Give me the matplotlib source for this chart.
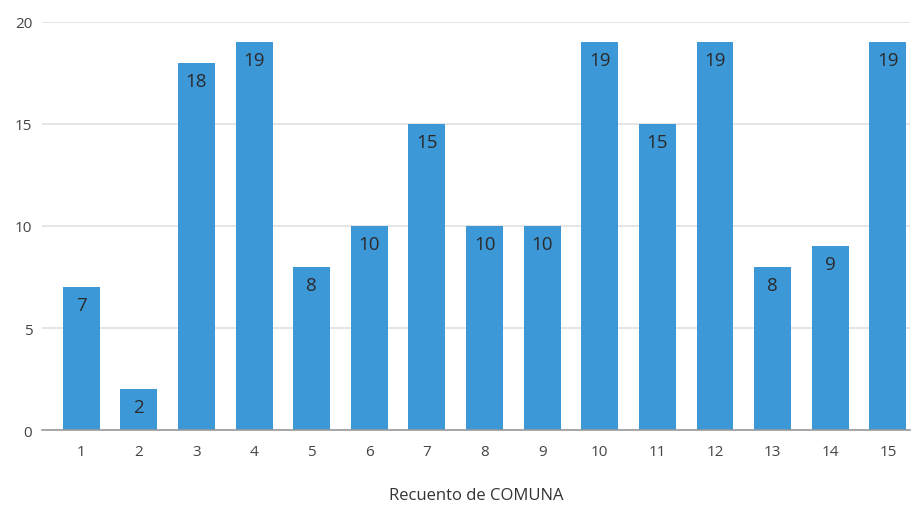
import matplotlib.pyplot as plt

# datos
comunas = list(range(1, 16))
recuento = [7, 2, 18, 19, 8, 10, 15, 10, 10, 19, 15, 19, 8, 9, 19]
yticks = [0, 5, 10, 15, 20]

plt.rcParams['font.family'] = ['Open Sans', 'DejaVu Sans']

fig = plt.figure(figsize=(9.14, 5.06), dpi=100)
ax = fig.add_axes([0.046, 0.148, 0.95, 0.807])

bars = ax.bar(comunas, recuento, width=0.64, color='#3d98d8', zorder=3)

# etiquetas dentro de las barras
for x, v in zip(comunas, recuento):
    ax.annotate(str(v), (x, v), xytext=(0, -13), textcoords='offset points',
                ha='center', va='center', fontsize=13.5, color='#2a2a2a', zorder=4)

ax.set_xlim(0.32, 15.39)
ax.set_ylim(0, 20)
ax.set_xticks(comunas)
ax.set_yticks(yticks)
ax.tick_params(axis='both', length=0, labelsize=11, colors='#444444')
ax.tick_params(axis='x', pad=10)
ax.tick_params(axis='y', pad=7)
ax.grid(axis='y', color='#e0e0e0', linewidth=1.2, zorder=0)

for side in ['top', 'right', 'left']:
    ax.spines[side].set_visible(False)
ax.spines['bottom'].set_color('#999999')
ax.spines['bottom'].set_linewidth(1.2)
ax.spines['bottom'].set_zorder(4)

ax.set_xlabel('Recuento de COMUNA', fontsize=12, color='#333333', labelpad=20)

fig.savefig('out.png', dpi=100)
